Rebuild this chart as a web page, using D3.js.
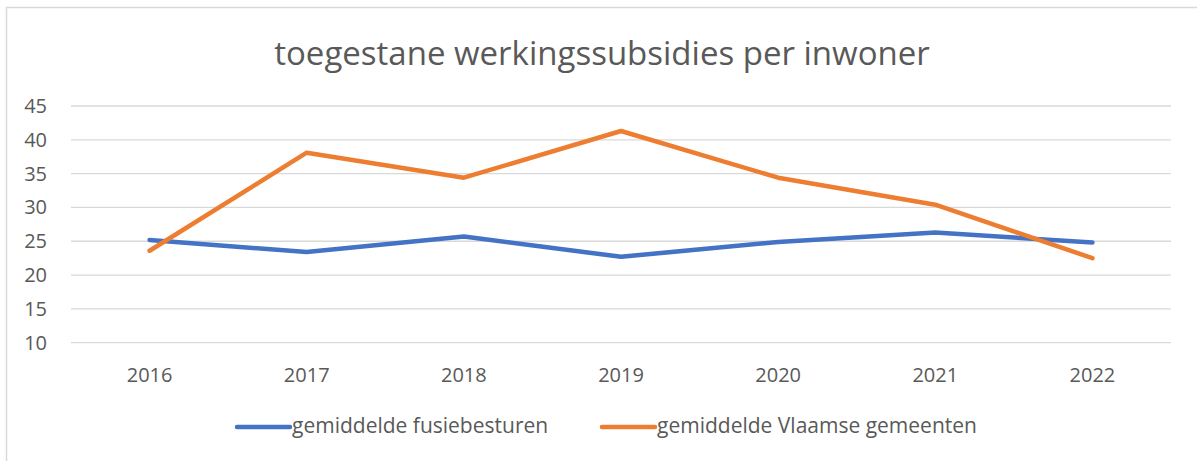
<!DOCTYPE html>
<html><head><meta charset="utf-8">
<script src="https://cdn.jsdelivr.net/npm/d3@7"></script>
<style>body{margin:0;background:#fff;} svg{display:block;font-family:"Open Sans",sans-serif;}</style>
</head><body><div id="c"></div>
<script>
const categories = ["2016","2017","2018","2019","2020","2021","2022"];
const fusieValues = [25.2, 23.4, 25.7, 22.7, 24.9, 26.3, 24.8];
const vlaamseValues = [23.6, 38.1, 34.4, 41.3, 34.4, 30.4, 22.5];
const yTicks = [10,15,20,25,30,35,40,45];
const seriesNames = ["gemiddelde fusiebesturen","gemiddelde Vlaamse gemeenten"];
const colors = ["#4472C4","#ED7D31"];

const W = 1197, H = 461;
const svg = d3.select("#c").append("svg").attr("width", W).attr("height", H);
svg.append("rect").attr("x",6.5).attr("y",7.5).attr("width",1200).attr("height",470)
  .attr("fill","#fff").attr("stroke","#d9d9d9").attr("stroke-width",1.5);

svg.append("text").attr("x",602).attr("y",65).attr("text-anchor","middle")
  .attr("font-size",33).attr("fill","#595959").text("toegestane werkingssubsidies per inwoner");

const x = d3.scaleBand().domain(categories).range([71,1171]);
const y = d3.scaleLinear().domain([10,45]).range([342.7,106]);

const grid = svg.append("g");
grid.selectAll("line").data(yTicks).join("line")
  .attr("x1",71).attr("x2",1171).attr("y1",d=>y(d)).attr("y2",d=>y(d))
  .attr("stroke","#d9d9d9").attr("stroke-width",1.3);

const yAxis = svg.append("g").attr("transform","translate(47,0)")
  .call(d3.axisLeft(y).tickValues(yTicks).tickSize(0).tickPadding(0));
yAxis.select(".domain").remove();
yAxis.selectAll("text").attr("font-size",20).attr("fill","#595959").attr("font-family","'Open Sans',sans-serif");

const xAxis = svg.append("g").attr("transform","translate(0,382)")
  .call(d3.axisBottom(x).tickSize(0).tickPadding(0));
xAxis.select(".domain").remove();
xAxis.selectAll("text").attr("y",0).attr("dy",0).attr("font-size",20).attr("fill","#595959").attr("font-family","'Open Sans',sans-serif");

const line = d3.line().x((d,i)=>x(categories[i])+x.bandwidth()/2).y(d=>y(d));
[fusieValues, vlaamseValues].forEach((vals,k)=>{
  svg.append("path").datum(vals).attr("d",line).attr("fill","none")
    .attr("stroke",colors[k]).attr("stroke-width",4.5)
    .attr("stroke-linecap","round").attr("stroke-linejoin","round");
});

const legX = [237, 602];
seriesNames.forEach((n,k)=>{
  svg.append("line").attr("x1",legX[k]).attr("x2",legX[k]+53).attr("y1",427).attr("y2",427)
    .attr("stroke",colors[k]).attr("stroke-width",4.5).attr("stroke-linecap","round");
  svg.append("text").attr("x",legX[k]+55).attr("y",433).attr("font-size",21)
    .attr("fill","#595959").text(n);
});
</script></body></html>
